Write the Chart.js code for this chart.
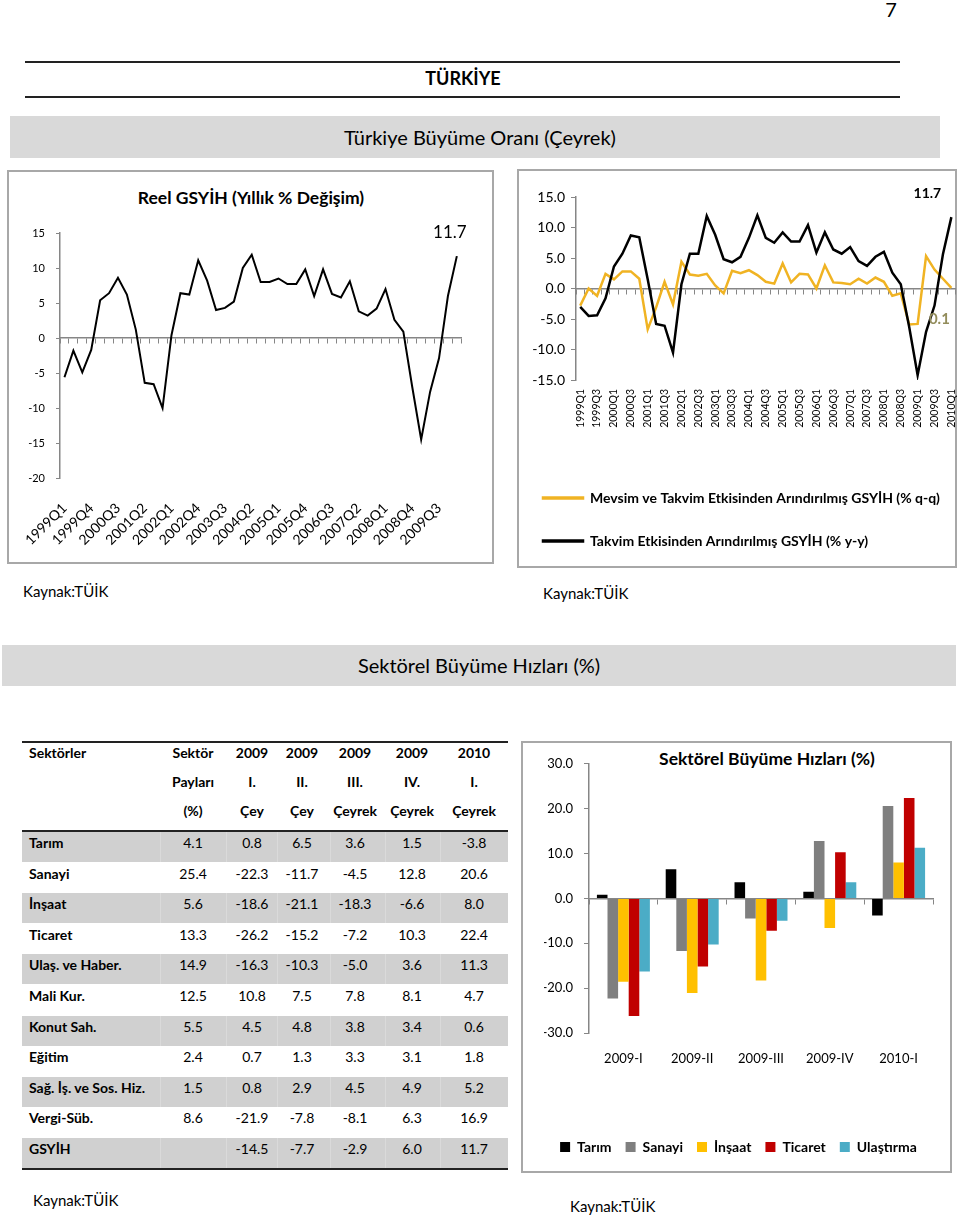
<!DOCTYPE html>
<html>
<head>
<meta charset="utf-8">
<script src="https://cdn.jsdelivr.net/npm/chart.js@4.4.0/dist/chart.umd.min.js"></script>
<style>
  body { margin: 0; background: #fff; font-family: Lato, sans-serif; color: #000; }
  #page { position: relative; width: 960px; height: 1217px; overflow: hidden; }
  .t { position: absolute; white-space: nowrap; line-height: 1.2; }
  .c { transform: translate(-50%, -50%); }
  .l { transform: translate(0, -50%); }
  .box { position: absolute; box-sizing: border-box; border: 2px solid #a8a8a8; }
  .band { position: absolute; background: #d3d3d3; }
  .rule { position: absolute; background: #222; }
  canvas { position: absolute; }
</style>
</head>
<body>
<div id="page">
  <div class="t c" style="left:891px;top:9px;font-size:20px">7</div>
  <div class="rule" style="left:25px;top:61px;width:875px;height:2px"></div>
  <div class="t c" style="left:463px;top:79px;font-size:18px;font-weight:bold">TÜRKİYE</div>
  <div class="rule" style="left:25px;top:96px;width:875px;height:2px"></div>
  <div class="band" style="left:10px;top:116px;width:930px;height:42px;background:#d9d9d9"></div>
  <div class="t c" style="left:480px;top:137px;font-size:20px">Türkiye Büyüme Oranı (Çeyrek)</div>

  <div class="box" style="left:7px;top:170px;width:487px;height:394px"></div>
  <div class="t c" style="left:251px;top:197px;font-size:17.5px;font-weight:bold">Reel GSYİH (Yıllık % Değişim)</div>
  <div class="box" style="left:517px;top:169px;width:440px;height:399px"></div>

  <div class="t l" style="left:23px;top:591px;font-size:15px">Kaynak:TÜİK</div>
  <div class="t l" style="left:543px;top:593px;font-size:15px">Kaynak:TÜİK</div>

  <div class="band" style="left:2px;top:645px;width:954px;height:41px;background:#d9d9d9"></div>
  <div class="t c" style="left:479px;top:665px;font-size:20px">Sektörel Büyüme Hızları (%)</div>

  <div id="table"></div>

  <div class="box" style="left:521px;top:741px;width:431px;height:432px"></div>
  <div class="t c" style="left:767px;top:758px;font-size:17.5px;font-weight:bold">Sektörel Büyüme Hızları (%)</div>

  <div class="t l" style="left:33px;top:1200px;font-size:15px">Kaynak:TÜİK</div>
  <div class="t l" style="left:570px;top:1206px;font-size:15px">Kaynak:TÜİK</div>

  <canvas id="reelChart" width="496" height="355" style="left:-5px;top:205px;width:496px;height:355px"></canvas>
  <canvas id="qqChart" width="459" height="378" style="left:514px;top:180px;width:459px;height:378px"></canvas>
  <canvas id="barChart" width="425" height="419" style="left:524px;top:745px;width:425px;height:419px"></canvas>
</div>

<script>
// quarters 1999Q1 - 2010Q1
const quarters = ['1999Q1','1999Q2','1999Q3','1999Q4','2000Q1','2000Q2','2000Q3','2000Q4',
  '2001Q1','2001Q2','2001Q3','2001Q4','2002Q1','2002Q2','2002Q3','2002Q4',
  '2003Q1','2003Q2','2003Q3','2003Q4','2004Q1','2004Q2','2004Q3','2004Q4',
  '2005Q1','2005Q2','2005Q3','2005Q4','2006Q1','2006Q2','2006Q3','2006Q4',
  '2007Q1','2007Q2','2007Q3','2007Q4','2008Q1','2008Q2','2008Q3','2008Q4',
  '2009Q1','2009Q2','2009Q3','2009Q4','2010Q1'];

// Reel GSYİH, yıllık % değişim
const reelGsyih = [-5.6,-1.8,-4.9,-1.7,5.4,6.4,8.6,6.2,1.2,-6.4,-6.6,-10.0,0.4,6.4,6.2,11.1,
  8.2,4.0,4.3,5.2,10.0,11.9,8.0,8.0,8.5,7.7,7.7,9.8,6.0,9.8,6.3,5.8,
  8.1,3.8,3.2,4.2,7.0,2.6,0.9,-7.0,-14.5,-7.7,-2.9,6.0,11.7];

// Mevsim ve takvim etkisinden arındırılmış (% q-q)
const gsyihQQ = [-2.8,0.0,-1.2,2.4,1.5,2.8,2.8,1.6,-6.7,-3.1,1.1,-2.6,4.4,2.3,2.1,2.4,
  0.5,-0.8,2.9,2.5,3.0,2.2,1.1,0.8,4.1,1.0,2.4,2.3,0.0,3.8,1.0,0.9,
  0.7,1.6,0.8,1.8,1.1,-1.2,-0.8,-5.9,-5.8,5.3,3.1,1.6,0.1];

// Takvim etkisinden arındırılmış (% y-y)
const gsyihYY = [-3.0,-4.5,-4.4,-1.6,3.6,5.7,8.7,8.4,1.5,-5.8,-6.1,-10.5,0.7,5.7,5.7,11.9,
  8.8,4.8,4.3,5.2,8.3,12.0,8.3,7.5,9.2,7.7,7.7,10.4,5.9,9.2,6.4,5.7,
  6.8,4.5,3.7,5.2,6.0,2.6,0.7,-6.3,-14.2,-7.1,-2.8,5.6,11.7];

// sektör tablosu
const sectors = ['Tarım','Sanayi','İnşaat','Ticaret','Ulaş. ve Haber.','Mali Kur.','Konut Sah.',
  'Eğitim','Sağ. İş. ve Sos. Hiz.',' Vergi-Süb.','GSYİH'];
const sectorShare = [4.1,25.4,5.6,13.3,14.9,12.5,5.5,2.4,1.5,8.6,null];
const q2009_1 = [0.8,-22.3,-18.6,-26.2,-16.3,10.8,4.5,0.7,0.8,-21.9,-14.5];
const q2009_2 = [6.5,-11.7,-21.1,-15.2,-10.3,7.5,4.8,1.3,2.9,-7.8,-7.7];
const q2009_3 = [3.6,-4.5,-18.3,-7.2,-5.0,7.8,3.8,3.3,4.5,-8.1,-2.9];
const q2009_4 = [1.5,12.8,-6.6,10.3,3.6,8.1,3.4,3.1,4.9,6.3,6.0];
const q2010_1 = [-3.8,20.6,8.0,22.4,11.3,4.7,0.6,1.8,5.2,16.9,11.7];

const barQuarters = ['2009-I','2009-II','2009-III','2009-IV','2010-I'];
const barSectors = ['Tarım','Sanayi','İnşaat','Ticaret','Ulaştırma'];
const barColors = ['#000000','#7f7f7f','#ffc000','#c00000','#4bacc6'];

// ---- table ----
const table = document.getElementById('table');
function cell(text, x, y, style) {
  const d = document.createElement('div');
  d.className = 't ' + (style.align === 'left' ? 'l' : 'c');
  d.style.left = x + 'px';
  d.style.top = y + 'px';
  d.style.fontSize = (style.size || 14) + 'px';
  if (style.bold) d.style.fontWeight = 'bold';
  d.textContent = text;
  table.appendChild(d);
}
function block(cls, x, y, w, h, bg) {
  const d = document.createElement('div');
  d.className = cls;
  d.style.cssText = `left:${x}px;top:${y}px;width:${w}px;height:${h}px` + (bg ? `;background:${bg}` : '');
  table.appendChild(d);
}
const colEdges = [22, 160, 226, 277, 330, 385, 440, 508];
const colMid = [193, 252, 302, 355, 412, 474];

block('rule', 22, 741, 486, 2);
block('rule', 22, 830, 486, 2);
block('rule', 22, 1168, 486, 2);

const head = [
  ['Sektör', '2009', '2009', '2009', '2009', '2010'],
  ['Payları', 'I.', 'II.', 'III.', 'IV.', 'I.'],
  ['(%)', 'Çey', 'Çey', 'Çeyrek', 'Çeyrek', 'Çeyrek']
];
const headY = [753, 782, 811];
cell('Sektörler', 29, headY[0], { align: 'left', bold: true });
head.forEach((row, r) => row.forEach((h, c) => cell(h, colMid[c], headY[r], { bold: true })));

const cols = [sectorShare, q2009_1, q2009_2, q2009_3, q2009_4, q2010_1];
sectors.forEach((name, i) => {
  const top = 832 + i * 30.6;
  if (i % 2 === 0) {
    block('band', 22, top, 486, 30, '#d0d0d0');
    for (let k = 1; k < colEdges.length - 1; k++) block('band', colEdges[k], top, 1, 30, '#dadada');
  }
  cell(name, 29, top + 11, { align: 'left', bold: true });
  cols.forEach((col, c) => {
    if (col[i] !== null) cell(col[i].toFixed(1), colMid[c], top + 11, { size: 14 });
  });
});

// ---- charts ----
Chart.defaults.font.family = 'Lato';
Chart.defaults.color = '#000';
Chart.defaults.animation = false;
const axisGray = '#868686';

const endLabels = {
  id: 'endLabels',
  afterDatasetsDraw(chart, args, opts) {
    const ctx = chart.ctx;
    (opts.items || []).forEach(it => {
      const meta = chart.getDatasetMeta(it.dataset);
      const last = meta.data.length - 1;
      const pt = meta.data[last];
      const v = chart.data.datasets[it.dataset].data[last];
      ctx.save();
      ctx.font = it.font;
      ctx.fillStyle = it.color;
      ctx.textAlign = 'center';
      ctx.textBaseline = 'middle';
      ctx.fillText(v.toFixed(1), pt.x + it.dx, pt.y + it.dy);
      ctx.restore();
    });
  }
};

function zeroAxis() {
  return {
    type: 'category', axis: 'x', position: { y: 0 }, offset: true,
    grid: { offset: true, drawOnChartArea: false, tickLength: 5, color: axisGray },
    border: { color: axisGray, width: 1.5 },
    ticks: { display: false, autoSkip: false }
  };
}

new Chart(document.getElementById('reelChart'), {
  type: 'line',
  data: {
    labels: quarters,
    datasets: [{
      data: reelGsyih, borderColor: '#000', borderWidth: 2, pointRadius: 0, tension: 0
    }]
  },
  options: {
    responsive: false,
    layout: { padding: { left: 0, right: 25, top: 28, bottom: 0 } },
    plugins: {
      legend: { display: false }, tooltip: { enabled: false },
      endLabels: { items: [{ dataset: 0, dx: -7, dy: -24, font: '17px Lato', color: '#000' }] }
    },
    scales: {
      x: {
        offset: true,
        grid: { display: false, drawTicks: false }, border: { display: false },
        ticks: {
          autoSkip: false, minRotation: 45, maxRotation: 45, padding: 22,
          font: { size: 14 },
          callback: (v, i) => (i % 3 === 0 ? quarters[i] : '')
        },
        afterFit: s => { s.height = 82; }
      },
      x2: zeroAxis(),
      y: {
        min: -20, max: 15,
        grid: { drawOnChartArea: false, tickLength: 4, color: axisGray },
        border: { color: axisGray, width: 1.5 },
        ticks: { stepSize: 5, padding: 11, font: { size: 11 } },
        afterFit: s => { s.width = 65; }
      }
    }
  },
  plugins: [endLabels]
});

new Chart(document.getElementById('qqChart'), {
  type: 'line',
  data: {
    labels: quarters,
    datasets: [
      { label: 'Mevsim ve Takvim Etkisinden Arındırılmış GSYİH (% q-q)', data: gsyihQQ,
        borderColor: '#f0b323', backgroundColor: '#f0b323', borderWidth: 2.5, pointRadius: 0, order: 1 },
      { label: 'Takvim Etkisinden Arındırılmış GSYİH (% y-y)', data: gsyihYY,
        borderColor: '#000', backgroundColor: '#000', borderWidth: 2.5, pointRadius: 0, order: 0 }
    ]
  },
  options: {
    responsive: false,
    layout: { padding: { left: 0, right: 2, top: 17, bottom: 0 } },
    plugins: {
      tooltip: { enabled: false },
      legend: {
        position: 'bottom', align: 'start',
        labels: {
          boxWidth: 40, boxHeight: 1, padding: 29, color: '#000',
          font: { size: 14, weight: 'bold' },
          sort: (a, b) => a.datasetIndex - b.datasetIndex
        }
      },
      endLabels: { items: [
        { dataset: 1, dx: -24, dy: -24, font: 'bold 14px Lato', color: '#000' },
        { dataset: 0, dx: -12, dy: 31, font: 'bold 15px Lato', color: '#938d5c' }
      ] }
    },
    scales: {
      x: {
        offset: true,
        grid: { display: false, drawTicks: false }, border: { display: false },
        ticks: {
          autoSkip: false, minRotation: 90, maxRotation: 90, padding: 9,
          font: { size: 10.5 },
          callback: (v, i) => (i % 2 === 0 ? quarters[i] : '')
        },
        afterFit: s => { s.height = 82; }
      },
      x2: zeroAxis(),
      y: {
        min: -15, max: 15,
        grid: { drawOnChartArea: false, tickLength: 5, color: axisGray },
        border: { color: axisGray, width: 1.5 },
        ticks: { stepSize: 5, padding: 6, font: { size: 14 }, callback: v => v.toFixed(1) },
        afterFit: s => { s.width = 62; }
      }
    }
  },
  plugins: [endLabels]
});

const quarterCols = [q2009_1, q2009_2, q2009_3, q2009_4, q2010_1];
new Chart(document.getElementById('barChart'), {
  type: 'bar',
  data: {
    labels: barQuarters,
    datasets: barSectors.map((name, s) => ({
      label: name,
      data: quarterCols.map(col => col[s]),
      backgroundColor: barColors[s],
      categoryPercentage: 0.77,
      barPercentage: 1.0
    }))
  },
  options: {
    responsive: false,
    layout: { padding: { left: 20, right: 16, top: 17, bottom: 0 } },
    plugins: {
      tooltip: { enabled: false },
      legend: {
        position: 'bottom',
        labels: { boxWidth: 10, boxHeight: 10, padding: 14, color: '#000', font: { size: 14, weight: 'bold' } }
      }
    },
    scales: {
      x: {
        grid: { display: false, drawTicks: false }, border: { display: false },
        ticks: { padding: 18, font: { size: 13 } },
        afterFit: s => { s.height = 93; }
      },
      x2: zeroAxis(),
      y: {
        min: -30, max: 30,
        grid: { drawOnChartArea: false, tickLength: 5, color: axisGray },
        border: { color: axisGray, width: 1.5 },
        ticks: { stepSize: 10, padding: 11, font: { size: 13 }, callback: v => v.toFixed(1) },
        afterFit: s => { s.width = 45; }
      }
    }
  }
});
</script>
</body>
</html>
